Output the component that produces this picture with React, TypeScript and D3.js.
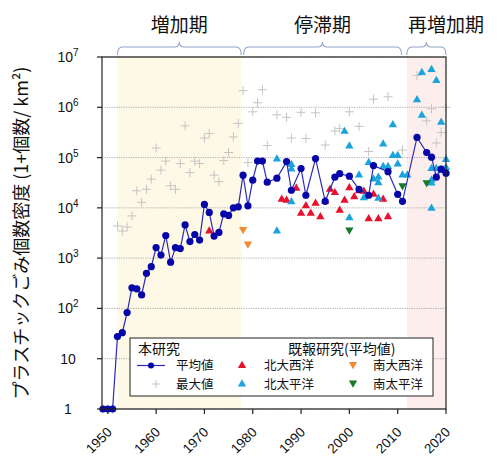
import { scaleLinear, scaleLog, line, symbol, symbolTriangle } from 'd3';

// 本研究: 平均値 (mean) and 最大値 (max), 1 + count per km2
const meanYears = [
  1949, 1950, 1951, 1952, 1953, 1954, 1955, 1956, 1957, 1958, 1959, 1960, 1961, 1962, 1963, 1964,
  1965, 1966, 1967, 1968, 1969, 1970, 1971, 1972, 1973, 1974, 1975, 1976, 1977, 1978, 1979, 1980,
  1981, 1982, 1983, 1985, 1987, 1988, 1990, 1991, 1993, 1995, 1997, 1998, 2000, 2002, 2004, 2005,
  2008, 2010, 2011, 2014, 2016, 2017, 2018, 2019, 2020,
];
const meanValues = [
  1, 1, 1, 27.5, 33, 83, 257, 245, 186, 500, 676, 1620, 1150, 2820, 832, 1620,
  1550, 4570, 2140, 2950, 2290, 11700, 8130, 2750, 3240, 7590, 7080, 10000, 10500, 44700, 11000, 35500,
  85100, 85100, 32400, 38900, 83200, 22400, 60300, 17800, 95500, 13500, 40700, 47900, 42700, 23400, 17800, 69200,
  52500, 18600, 13500, 251000, 126000, 102000, 40700, 58900, 49000,
];
const maxYears = [
  1949, 1950, 1951, 1952, 1953, 1954, 1955, 1956, 1957, 1958, 1959, 1960, 1961, 1962, 1963, 1964,
  1965, 1966, 1967, 1968, 1969, 1970, 1971, 1972, 1973, 1974, 1975, 1976, 1977, 1978, 1979, 1980,
  1981, 1982, 1983, 1985, 1987, 1988, 1990, 1991, 1993, 1995, 1997, 1998, 2000, 2002, 2004, 2005,
  2008, 2011, 2014, 2016, 2017, 2018, 2019, 2020,
];
const maxValues = [
  1, 1, 1, 4370, 3470, 4170, 6920, 21900, 12900, 23400, 37200, 155000, 56200, 85100, 27500, 23400,
  75900, 427000, 50100, 85100, 75900, 245000, 302000, 44700, 33100, 87100, 126000, 257000, 479000, 2140000, 79400, 813000,
  1230000, 2240000, 174000, 708000, 631000, 245000, 794000, 240000, 776000, 178000, 339000, 380000, 813000, 417000, 132000, 1450000,
  1620000, 141000, 4270000, 537000, 933000, 195000, 316000, 1000000,
];

// 既報研究 (平均値)
const northAtlanticYears = [1971, 1986, 1987, 1989, 1990, 1991, 1992, 1993, 1994, 1995, 1996, 1997, 1998, 1999, 2000, 2001, 2002, 2003, 2004, 2005, 2006, 2007, 2008];
const northAtlanticValues = [3470, 14800, 14100, 24500, 7760, 11000, 7760, 12300, 6610, 13500, 23400, 20000, 8910, 14100, 25100, 16600, 21900, 21400, 6030, 18600, 6030, 14800, 6610];
const northPacificYears = [
  1985, 1985, 1988, 1988, 1988, 1999, 2000, 2000, 2002, 2003, 2004, 2005, 2006, 2006, 2006, 2007, 2007, 2008,
  2009, 2009, 2010, 2010, 2011, 2012, 2014, 2015, 2015, 2017, 2018, 2019, 2020, 2020, 2017, 2018, 2019, 2017, 2017, 2017,
];
const northPacificValues = [
  93300, 3470, 72400, 58900, 13200, 331000, 170000, 6310, 44700, 15800, 79400, 37200, 40700, 31600, 15500, 186000, 66100, 66100,
  447000, 110000, 110000, 74100, 44700, 44700, 1410000, 4900000, 692000, 5620000, 3390000, 501000, 91200, 63100, 60300, 60300, 56200, 35500, 30900, 9770,
];
const southAtlanticYears = [1978, 1979];
const southAtlanticValues = [3720, 1910];
const southPacificYears = [2000, 2011, 2016];
const southPacificValues = [3630, 27500, 31600];

const xTicks = [1950, 1960, 1970, 1980, 1990, 2000, 2010, 2020];
const yTicks = [1, 10, 100, 1e3, 1e4, 1e5, 1e6, 1e7];

const periods = [
  { label: '増加期', from: 1952, to: 1977.6, fill: '#fef8e6' },
  { label: '停滞期', from: 1978.1, to: 2010.8, fill: 'none' },
  { label: '再増加期', from: 2011.9, to: 2020, fill: '#fdeeee' },
];

const JP = '"Noto Sans CJK JP", "Noto Sans", sans-serif';
const NUM = '"Liberation Sans", Arial, sans-serif';

const left = 102, right = 446, top = 57, bottom = 409;
const x = scaleLinear().domain([1948.8, 2020]).range([left, right]);
const y = scaleLog().domain([1, 1e7]).range([bottom, top]);

const triUp = symbol(symbolTriangle, 30)() as string;

function brace(x1: number, x2: number, yb: number, yt: number) {
  const m = (x1 + x2) / 2;
  const r = 5;
  const yc = yt + 5;
  return `M${x1},${yb} Q${x1},${yc} ${x1 + r},${yc} L${m - r},${yc} Q${m},${yc} ${m},${yt}` +
    ` Q${m},${yc} ${m + r},${yc} L${x2 - r},${yc} Q${x2},${yc} ${x2},${yb}`;
}

function Tri({ cx, cy, color, down }: { cx: number; cy: number; color: string; down?: boolean }) {
  return <path d={triUp} fill={color} transform={`translate(${cx},${cy})${down ? ' rotate(180)' : ''}`} />;
}

export default function App() {
  const meanLine = line<number>().x((_, i) => x(meanYears[i])).y((v) => y(v))(meanValues) as string;
  const row1 = 365.5, row2 = 384;

  return (
    <svg width={500} height={464} style={{ position: 'absolute', left: 0, top: 0, background: '#fff' }}>
      {/* period bands */}
      {periods.filter((p) => p.fill !== 'none').map((p) => (
        <rect key={p.label} x={x(p.from)} y={top} width={x(p.to) - x(p.from)} height={bottom - top} fill={p.fill} />
      ))}
      {/* grid */}
      {yTicks.map((t) => (
        <line key={t} x1={left} x2={right} y1={y(t)} y2={y(t)} stroke="#999" strokeWidth={0.8} strokeDasharray="1.2,1.2" />
      ))}

      {/* braces and labels */}
      {periods.map((p, i) => (
        <g key={p.label}>
          <path d={brace(x(p.from), x(p.to), 55, 42)} fill="none" stroke="#90a6cc" strokeWidth={1.1} />
          <text x={i === 2 ? 446 : (x(p.from) + x(p.to)) / 2} y={32} textAnchor="middle" fontFamily={JP} fontSize={19} fill="#111">
            {p.label}
          </text>
        </g>
      ))}

      {/* max crosses */}
      {maxValues.map((v, i) => (
        <path key={i} d="M-4.5,0H4.5M0,-4.5V4.5" stroke="#c4c4c4" strokeWidth={1} transform={`translate(${x(maxYears[i])},${y(v)})`} />
      ))}

      {/* previous studies */}
      {northAtlanticValues.map((v, i) => <Tri key={'na' + i} cx={x(northAtlanticYears[i])} cy={y(v)} color="#e8112d" />)}
      {northPacificValues.map((v, i) => <Tri key={'np' + i} cx={x(northPacificYears[i])} cy={y(v)} color="#1ba3dc" />)}
      {southAtlanticValues.map((v, i) => <Tri key={'sa' + i} cx={x(southAtlanticYears[i])} cy={y(v)} color="#f08a33" down />)}
      {southPacificValues.map((v, i) => <Tri key={'sp' + i} cx={x(southPacificYears[i])} cy={y(v)} color="#18792a" down />)}

      {/* mean */}
      <path d={meanLine} fill="none" stroke="#2a2ab8" strokeWidth={1.2} />
      {meanValues.map((v, i) => (
        <circle key={i} cx={x(meanYears[i])} cy={y(v)} r={3.6} fill="#0505a8" />
      ))}

      {/* frame */}
      <rect x={left} y={top} width={right - left} height={bottom - top} fill="none" stroke="#222" strokeWidth={1.2} />

      {/* y axis */}
      {yTicks.map((t, i) => (
        <g key={t}>
          <line x1={left - 5} x2={left} y1={y(t)} y2={y(t)} stroke="#222" strokeWidth={1.2} />
          <text x={68} y={y(t) + 5} textAnchor="middle" fontFamily={NUM} fontSize={14} fill="#111">
            {i <= 1 ? String(t) : <>10<tspan fontSize={10} dy={-6}>{i}</tspan></>}
          </text>
        </g>
      ))}

      {/* x axis */}
      {xTicks.map((t) => (
        <g key={t}>
          <line x1={x(t)} x2={x(t)} y1={bottom} y2={bottom + 5} stroke="#222" strokeWidth={1.2} />
          <text transform={`translate(${x(t) + 5},${bottom + 24}) rotate(-45)`} textAnchor="end" fontFamily={NUM} fontSize={13.5} fill="#111">
            {t}
          </text>
        </g>
      ))}

      {/* y title */}
      <text transform="translate(28,233) rotate(-90)" textAnchor="middle" fontFamily={JP} fontSize={18} fill="#111">
        プラスチックごみ個数密度 (1+個数/ km²)
      </text>

      {/* legend */}
      <g fontFamily={JP} fontSize={12.5} fill="#111">
        <rect x={130} y={338} width={303} height={58} fill="#fff" stroke="#222" strokeWidth={1} />
        <text x={138} y={354} fontSize={14}>本研究</text>
        <line x1={137} x2={165} y1={row1} y2={row1} stroke="#2a2ab8" strokeWidth={1.2} />
        <circle cx={151} cy={row1} r={3} fill="#0505a8" />
        <text x={176} y={row1 + 4.5}>平均値</text>
        <path d="M-4,0H4M0,-4V4" stroke="#c4c4c4" transform={`translate(156,${row2})`} />
        <text x={176} y={row2 + 4.5}>最大値</text>
        <text x={288} y={354} fontSize={14}>既報研究(平均値)</text>
        <Tri cx={242} cy={row1} color="#e8112d" />
        <text x={264} y={row1 + 4.5}>北大西洋</text>
        <Tri cx={242} cy={row2} color="#1ba3dc" />
        <text x={264} y={row2 + 4.5}>北太平洋</text>
        <Tri cx={353} cy={row1 - 1} color="#f08a33" down />
        <text x={373} y={row1 + 4.5}>南大西洋</text>
        <Tri cx={353} cy={row2 - 1} color="#18792a" down />
        <text x={373} y={row2 + 4.5}>南太平洋</text>
      </g>
    </svg>
  );
}
